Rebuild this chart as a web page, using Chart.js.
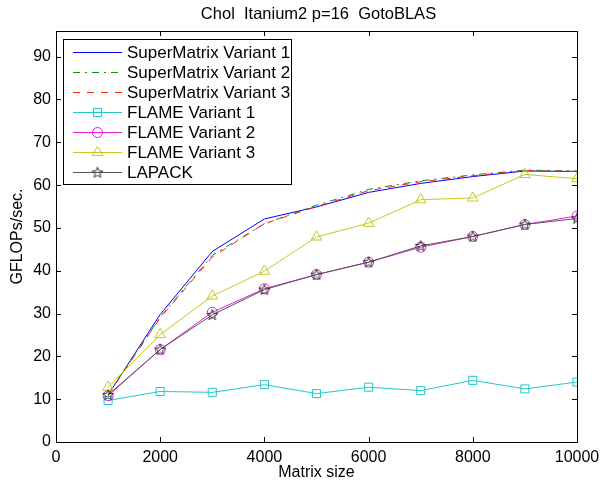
<!DOCTYPE html>
<html lang="en">
<head>
  <meta charset="UTF-8">
  <title>Chol Itanium2 p=16 GotoBLAS</title>
  <script src="https://cdn.jsdelivr.net/npm/chart.js"></script>
  <style>
    body { margin: 0; background: white; }
    #wrap { width: 600px; height: 484px; }
  </style>
</head>
<body>
  <div id="wrap"><canvas id="chol" width="600" height="484"></canvas></div>

  <script>
    // data
    const sizes = [1000, 2000, 3000, 4000, 5000, 6000, 7000, 8000, 9000, 10000];
    const smV1 = [11.0, 29.8, 44.5, 52.1, 54.9, 58.3, 60.4, 62.0, 63.3, 63.2];
    const smV2 = [11.2, 29.2, 43.6, 51.0, 55.3, 59.0, 61.0, 62.4, 63.5, 63.3];
    const smV3 = [11.0, 29.0, 43.2, 51.0, 55.0, 58.7, 60.8, 62.2, 63.4, 63.2];
    const flameV1 = [9.7, 11.8, 11.6, 13.4, 11.3, 12.8, 12.0, 14.4, 12.4, 14.0];
    const flameV2 = [10.8, 21.6, 30.3, 35.8, 39.1, 42.0, 45.5, 48.0, 50.8, 52.8];
    const flameV3 = [12.8, 25.1, 34.1, 39.9, 47.9, 51.1, 56.6, 57.0, 62.5, 61.5];
    const lapack = [11.0, 21.6, 29.7, 35.6, 39.1, 42.0, 45.8, 48.0, 50.8, 52.2];

    const xTicks = [0, 2000, 4000, 6000, 8000, 10000];
    const yTicks = [0, 10, 20, 30, 40, 50, 60, 70, 80, 90];

    const FONT = 'Liberation Sans, Arial, sans-serif';

    // hollow five point star marker
    function makeStar(color) {
      const c = document.createElement('canvas');
      c.width = 14; c.height = 14;
      const g = c.getContext('2d');
      g.strokeStyle = color;
      g.lineWidth = 1;
      g.beginPath();
      for (let i = 0; i < 10; i++) {
        const r = i % 2 === 0 ? 5.6 : 2.4;
        const a = -Math.PI / 2 + i * Math.PI / 5;
        const px = 7 + r * Math.cos(a), py = 7.3 + r * Math.sin(a);
        if (i === 0) g.moveTo(px, py); else g.lineTo(px, py);
      }
      g.closePath();
      g.stroke();
      return c;
    }
    const star = makeStar('#333333');

    function pts(vals) {
      return sizes.map((s, i) => ({ x: s, y: vals[i] }));
    }

    function series(label, vals, color, dash, style, radius, idx) {
      return {
        label: label,
        data: pts(vals),
        borderColor: color,
        backgroundColor: 'transparent',
        borderWidth: 1,
        borderDash: dash,
        pointStyle: style || false,
        pointRadius: style ? radius : 0,
        pointBorderColor: color,
        pointBackgroundColor: 'transparent',
        pointBorderWidth: 1,
        showLine: true,
        tension: 0,
        order: 10 - idx
      };
    }

    const datasets = [
      series('SuperMatrix Variant 1', smV1, '#0000ff', [], null, 0, 0),
      series('SuperMatrix Variant 2', smV2, '#1a8a1a', [7, 5, 2, 5], null, 0, 1),
      series('SuperMatrix Variant 3', smV3, '#ff2020', [7, 7], null, 0, 2),
      series('FLAME Variant 1', flameV1, '#22c8c8', [], 'rect', 5.7, 3),
      series('FLAME Variant 2', flameV2, '#e020e0', [], 'circle', 5, 4),
      series('FLAME Variant 3', flameV3, '#c8c820', [], 'triangle', 6.2, 5),
      series('LAPACK', lapack, '#555555', [], star, 6, 6)
    ];
    datasets[6].pointBorderColor = '#333333';

    // frame, inner ticks, title and legend box
    const matlabLook = {
      id: 'matlabLook',
      afterDatasetsDraw(chart) {
        const ctx = chart.ctx;
        const a = chart.chartArea;
        const xs = chart.scales.x, ys = chart.scales.y;
        ctx.save();
        ctx.strokeStyle = '#000';
        ctx.lineWidth = 1;
        ctx.beginPath();
        ctx.rect(Math.round(a.left) + 0.5, Math.round(a.top) + 0.5,
          Math.round(a.right - a.left), Math.round(a.bottom - a.top));
        const tl = 5;
        xTicks.forEach(v => {
          const px = Math.round(xs.getPixelForValue(v)) + 0.5;
          ctx.moveTo(px, a.bottom); ctx.lineTo(px, a.bottom - tl);
          ctx.moveTo(px, a.top); ctx.lineTo(px, a.top + tl);
        });
        yTicks.forEach(v => {
          const py = Math.round(ys.getPixelForValue(v)) + 0.5;
          ctx.moveTo(a.left, py); ctx.lineTo(a.left + tl, py);
          ctx.moveTo(a.right, py); ctx.lineTo(a.right - tl, py);
        });
        ctx.stroke();

        // title
        ctx.fillStyle = '#000';
        ctx.font = '16.5px ' + FONT;
        ctx.textAlign = 'center';
        ctx.textBaseline = 'middle';
        ctx.fillText('Chol  Itanium2 p=16  GotoBLAS', (a.left + a.right) / 2 + 2, 14);

        // legend
        const bx = 63.5, by = 39.5, bw = 228, bh = 145;
        ctx.fillStyle = '#fff';
        ctx.fillRect(bx, by, bw, bh);
        ctx.strokeStyle = '#000';
        ctx.strokeRect(bx, by, bw, bh);
        ctx.font = '17px ' + FONT;
        ctx.textAlign = 'left';
        chart.data.datasets.forEach((ds, i) => {
          const y = 52 + i * 20;
          ctx.strokeStyle = ds.borderColor;
          ctx.lineWidth = 1;
          ctx.setLineDash(ds.borderDash);
          ctx.beginPath();
          ctx.moveTo(73, y + 0.5); ctx.lineTo(122, y + 0.5);
          ctx.stroke();
          ctx.setLineDash([]);
          if (ds.pointStyle) {
            ctx.strokeStyle = ds.pointBorderColor;
            ctx.fillStyle = 'transparent';
            Chart.helpers.drawPoint(ctx, {
              pointStyle: ds.pointStyle, radius: ds.pointRadius,
              rotation: 0, borderWidth: 1
            }, 97.5, y + 0.5);
          }
          ctx.fillStyle = '#000';
          ctx.fillText(ds.label, 127, y + 1);
        });
        ctx.restore();
      }
    };

    new Chart(document.getElementById('chol'), {
      type: 'scatter',
      data: { datasets: datasets },
      options: {
        responsive: false,
        animation: false,
        layout: { padding: { left: 0, top: 31, right: 23, bottom: 0 } },
        plugins: {
          legend: { display: false },
          tooltip: { enabled: false }
        },
        scales: {
          x: {
            type: 'linear',
            min: 0, max: 10000,
            grid: { display: false, drawTicks: false },
            border: { display: false },
            afterBuildTicks: s => { s.ticks = xTicks.map(v => ({ value: v })); },
            afterFit: s => { s.height = 42; s.paddingLeft = 0; s.paddingRight = 0; },
            ticks: {
              color: '#000', padding: 6, maxRotation: 0, autoSkip: false,
              font: { family: FONT, size: 16 },
              callback: v => String(v)
            },
            title: {
              display: true, text: 'Matrix size', color: '#000',
              font: { family: FONT, size: 16 },
              padding: { top: 0, bottom: 2 }
            }
          },
          y: {
            type: 'linear',
            min: 0, max: 96,
            grid: { display: false, drawTicks: false },
            border: { display: false },
            afterBuildTicks: s => { s.ticks = yTicks.map(v => ({ value: v })); },
            afterFit: s => { s.width = 56; s.paddingTop = 0; s.paddingBottom = 0; },
            ticks: {
              color: '#000', padding: 5, autoSkip: false,
              font: { family: FONT, size: 16 }
            },
            title: {
              display: true, text: 'GFLOPs/sec.', color: '#000',
              font: { family: FONT, size: 16 },
              padding: { top: 8, bottom: 0 }
            }
          }
        }
      },
      plugins: [matlabLook]
    });
  </script>
</body>
</html>
